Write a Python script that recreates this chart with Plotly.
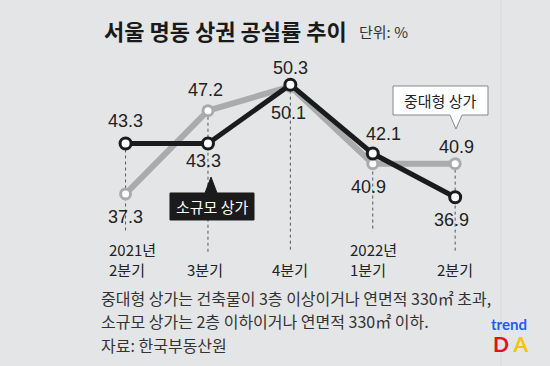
import plotly.graph_objects as go

# ---- data ----
quarters = ["2021년 2분기", "3분기", "4분기", "2022년 1분기", "2분기"]
x_year_labels = ["2021년", "", "", "2022년", ""]
x_quarter_labels = ["2분기", "3분기", "4분기", "1분기", "2분기"]
small_shops = [43.3, 43.3, 50.3, 42.1, 36.9]    # 소규모 상가 (black)
large_shops = [37.3, 47.2, 50.1, 40.9, 40.9]    # 중대형 상가 (gray)

# ---- style / layout helpers ----
W, H = 550, 366
BG = "#e4e5e7"
BLACK = "#1b1b1b"
GRAY = "#ababab"
NUM_FONT = "Liberation Sans, Arial, sans-serif"
KR_FONT = "Noto Sans CJK KR, sans-serif"

def PX(x):
    return x / W

def PY(y):
    return 1 - y / H

xs = list(range(len(quarters)))

fig = go.Figure()

# gray series (drawn first, underneath)
fig.add_trace(go.Scatter(
    x=xs, y=large_shops, mode="lines+markers", name="중대형 상가",
    line=dict(color=GRAY, width=6),
    marker=dict(size=10, color="white", line=dict(color=GRAY, width=3)),
    hoverinfo="skip", showlegend=False, cliponaxis=False))

# black series
fig.add_trace(go.Scatter(
    x=xs, y=small_shops, mode="lines+markers", name="소규모 상가",
    line=dict(color=BLACK, width=5),
    marker=dict(size=11, color="white", line=dict(color=BLACK, width=3)),
    hoverinfo="skip", showlegend=False, cliponaxis=False))

shapes = []
# dotted drop lines from the higher point down toward the axis labels
drop_bottom = [32.8, 30.4, 30.4, 32.8, 30.4]
for i in xs:
    shapes.append(dict(type="line", xref="x", yref="y", layer="below",
                       x0=i, x1=i, y0=max(small_shops[i], large_shops[i]),
                       y1=drop_bottom[i],
                       line=dict(color="#555555", width=1, dash="dot")))

# faint vertical edge at right
shapes.append(dict(type="line", xref="paper", yref="paper", layer="below",
                   x0=PX(501), x1=PX(501), y0=0, y1=1,
                   line=dict(color="#d8d9db", width=1)))

def path(points):
    return "M " + " L ".join(f"{PX(x):.5f},{PY(y):.5f}" for x, y in points) + " Z"

# callout: 중대형 상가 (white box, tail down)
shapes.append(dict(type="path", xref="paper", yref="paper",
                   path=path([(393, 86), (488, 86), (488, 115), (462, 115),
                              (456, 129), (450, 115), (393, 115)]),
                   fillcolor="white", line=dict(color="#888888", width=1)))
# callout: 소규모 상가 (black box, tail up)
shapes.append(dict(type="path", xref="paper", yref="paper",
                   path=path([(170, 193), (205, 193), (211, 177), (217, 193),
                              (254, 193), (254, 220), (170, 220)]),
                   fillcolor=BLACK, line=dict(color=BLACK, width=1)))

annotations = []

def ann(**kw):
    kw.setdefault("showarrow", False)
    kw.setdefault("xanchor", "center")
    kw.setdefault("yanchor", "middle")
    annotations.append(kw)

# data value labels (offsets in pixels)
black_off = [(0, 22), (-4, -18), (0, 17), (11, 20), (-4, -23)]
gray_off = [(0, -23), (-2, 21), (-2, -27), (-4, -23), (1, 17)]
for i in xs:
    for vals, off in ((small_shops, black_off), (large_shops, gray_off)):
        ann(x=i, y=vals[i], xref="x", yref="y", text=f"{vals[i]:.1f}",
            xshift=off[i][0], yshift=off[i][1],
            font=dict(family=NUM_FONT, size=18, color="#222222"))

# x category labels
year_shift = [-19, 0, 0, -25, 0]
quarter_shift = [0, -3, 0, -5, 0]
for i in xs:
    if x_year_labels[i]:
        ann(x=i, y=PY(249), xref="x", yref="paper", text=x_year_labels[i],
            xshift=year_shift[i], xanchor="left",
            font=dict(family=KR_FONT, size=15, color="#222222"))
        ann(x=i, y=PY(269), xref="x", yref="paper", text=x_quarter_labels[i],
            xshift=year_shift[i], xanchor="left",
            font=dict(family=KR_FONT, size=15, color="#222222"))
    else:
        ann(x=i, y=PY(269), xref="x", yref="paper", text=x_quarter_labels[i],
            xshift=quarter_shift[i],
            font=dict(family=KR_FONT, size=15, color="#222222"))

# series callout texts
ann(x=PX(440.5), y=PY(100.5), xref="paper", yref="paper", text="중대형 상가",
    font=dict(family=KR_FONT, size=15, color="#222222"))
ann(x=PX(212), y=PY(206.5), xref="paper", yref="paper", text="소규모 상가",
    font=dict(family=KR_FONT, size=15, color="white"))

# title and unit
ann(x=PX(102), y=PY(30), xref="paper", yref="paper",
    text="<b>서울 명동 상권 공실률 추이</b>", xanchor="left",
    font=dict(family=KR_FONT, size=22, color="#1a1a1a"))
ann(x=PX(357), y=PY(32), xref="paper", yref="paper", text="단위: %", xanchor="left",
    font=dict(family=KR_FONT, size=15, color="#333333"))

# footnotes
notes = ["중대형 상가는 건축물이 3층 이상이거나 연면적 330㎡ 초과,",
         "소규모 상가는 2층 이하이거나 연면적 330㎡ 이하.",
         "자료: 한국부동산원"]
note_y = [297.5, 321, 344.5]
for t, y in zip(notes, note_y):
    ann(x=PX(99), y=PY(y), xref="paper", yref="paper", text=t, xanchor="left",
        font=dict(family=KR_FONT, size=16, color="#333333"))

# logo
ann(x=PX(509), y=PY(324), xref="paper", yref="paper", text="<b>trend</b>",
    font=dict(family="Lato, Roboto, sans-serif", size=15, color="#1e5bff"))
ann(x=PX(510), y=PY(343.5), xref="paper", yref="paper",
    text="<b><span style='color:#e5101d'>D</span> <span style='color:#f8c300'>A</span></b>",
    font=dict(family="Lato, Roboto, sans-serif", size=21, color="#e5101d"))

fig.update_layout(
    width=W, height=H, autosize=False,
    margin=dict(l=0, r=0, t=0, b=0, pad=0),
    paper_bgcolor=BG, plot_bgcolor=BG,
    xaxis=dict(range=[-1.524, 5.151], visible=False, fixedrange=True),
    yaxis=dict(range=[16.81, 60.38], visible=False, fixedrange=True),
    shapes=shapes, annotations=annotations, showlegend=False,
)

fig.write_html("out.html", config={"displayModeBar": False},
               post_script="document.body.style.margin='0px';document.body.style.background='%s';" % BG)
